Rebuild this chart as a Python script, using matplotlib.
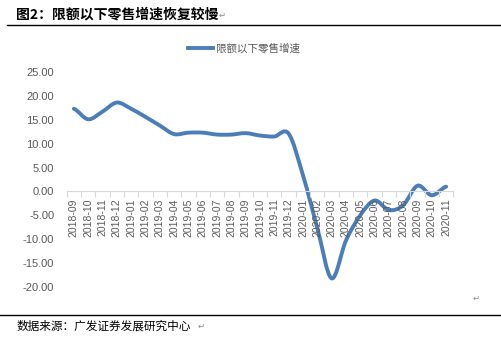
import numpy as np
import matplotlib
matplotlib.use("Agg")
import matplotlib.pyplot as plt
from matplotlib.path import Path
from matplotlib.patches import PathPatch
from matplotlib.lines import Line2D

months = ["2018-09", "2018-10", "2018-11", "2018-12", "2019-01", "2019-02",
          "2019-03", "2019-04", "2019-05", "2019-06", "2019-07", "2019-08",
          "2019-09", "2019-10", "2019-11", "2019-12", "2020-01", "2020-02",
          "2020-03", "2020-04", "2020-05", "2020-06", "2020-07", "2020-08",
          "2020-09", "2020-10", "2020-11"]
growth = [17.3, 15.1, 16.7, 18.6, 17.3, 15.6, 13.8, 12.0, 12.3, 12.3, 11.9, 11.9,
          12.2, 11.7, 11.5, 12.1, 3.4, -7.6, -18.2, -10.3, -5.0, -1.9, -3.9, -2.9,
          1.2, -0.8, 1.0]
yticks = [25, 20, 15, 10, 5, 0, -5, -10, -15, -20]

series_name = "限额以下零售增速"
title = "图2：限额以下零售增速恢复较慢"
source = "数据来源：广发证券发展研究中心"

cjk = ["Noto Sans CJK SC", "DejaVu Sans"]
blue = "#4a7ebb"
grey = "#595959"

fig = plt.figure(figsize=(5.01, 3.37), dpi=100)
ax = fig.add_axes([0.1331, 0.1484, 0.7717, 0.638])

# smoothed line (Catmull-Rom style bezier, like a spreadsheet "smooth line")
x = np.arange(len(growth))
y = np.array(growth, dtype=float)
n = len(y)
tang = np.array([(y[min(i + 1, n - 1)] - y[max(i - 1, 0)]) / 2 for i in range(n)])
verts = [(x[0], y[0])]
codes = [Path.MOVETO]
for i in range(n - 1):
    verts += [(x[i] + 1 / 3, y[i] + tang[i] / 3),
              (x[i + 1] - 1 / 3, y[i + 1] - tang[i + 1] / 3),
              (x[i + 1], y[i + 1])]
    codes += [Path.CURVE4] * 3
ax.add_patch(PathPatch(Path(verts, codes), fill=False, edgecolor=blue,
                       lw=2.8, capstyle="round", joinstyle="round"))

ax.set_xlim(-0.5, n - 0.5)
ax.set_ylim(-20, 25)

for s in ["top", "right", "left"]:
    ax.spines[s].set_visible(False)
ax.spines["bottom"].set_position(("data", 0))
ax.spines["bottom"].set_color("#d9d9d9")
ax.spines["bottom"].set_linewidth(0.8)

ax.set_xticks(x)
ax.set_xticklabels(months, rotation=90, fontsize=7.5, color=grey,
                   family="Liberation Sans")
ax.set_xticks(np.arange(-0.5, n, 1), minor=True)
ax.tick_params(axis="x", which="major", length=0, pad=5)
ax.tick_params(axis="x", which="minor", length=4, color="#d9d9d9", width=0.8)

ax.set_yticks(yticks)
ax.set_yticklabels([f"{v:.2f}" for v in yticks], fontsize=8, color=grey,
                   family="Liberation Sans")
ax.tick_params(axis="y", length=0, pad=9)

# legend
handle = Line2D([], [], color=blue, lw=2.8)
ax.legend([handle], [series_name], loc="center", bbox_to_anchor=(0.487, 0.857),
          bbox_transform=fig.transFigure, frameon=False, handlelength=2.4,
          handletextpad=0.3, prop={"family": cjk, "size": 7.6},
          labelcolor=grey)

# heading and footer
fig.text(0.032, 0.958, title, fontsize=10, fontweight="bold", family=cjk,
         va="center", ha="left", color="black")
fig.text(0.437, 0.955, "↵", fontsize=6, family=cjk, va="center", color="#8c8c8c")
fig.add_artist(Line2D([0.014, 1.0], [1 - 25 / 337, 1 - 25 / 337], color="black", lw=1.0))
fig.add_artist(Line2D([0.0, 1.0], [1 - 315 / 337, 1 - 315 / 337], color="black", lw=1.0))
fig.text(0.032, 1 - 326 / 337, source, fontsize=8.4, family=cjk,
         va="center", ha="left", color="black")
fig.text(0.394, 1 - 326 / 337, "↵", fontsize=6, family=cjk, va="center", color="#8c8c8c")
fig.text(0.944, 1 - 298 / 337, "↵", fontsize=6, family=cjk, va="center", color="#8c8c8c")

fig.savefig("out.png", dpi=100, facecolor="white")
